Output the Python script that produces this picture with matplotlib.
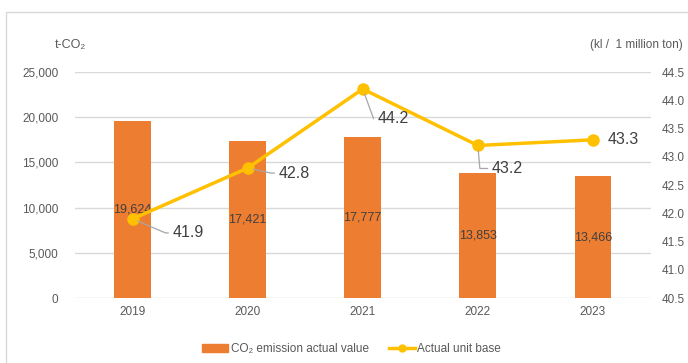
import matplotlib.pyplot as plt
import numpy as np
from matplotlib.patches import Rectangle, Patch
from matplotlib.lines import Line2D

plt.rcParams['font.family'] = ['Liberation Sans', 'DejaVu Sans']

years = ['2019', '2020', '2021', '2022', '2023']
emissions = [19624, 17421, 17777, 13853, 13466]
unit_base = [41.9, 42.8, 44.2, 43.2, 43.3]
# label offsets (pixels) and leader angle for the unit base annotations
label_offsets = [(40, -14), (31, -5), (15, -30), (14, -23), (15, 0)]
leader_angles = [-23, -12, -70, -85, None]

bar_color = '#ED7D31'
line_color = '#FFC000'
text_color = '#595959'
grid_color = '#D9D9D9'

fig = plt.figure(figsize=(6.88, 3.63), dpi=100)
ax = fig.add_axes([0.109, 0.179, 0.8365, 0.6226])
x = np.arange(len(years))

ax.bar(x, emissions, width=0.32, color=bar_color, zorder=2)
for xi, v in zip(x, emissions):
    ax.text(xi, v / 2, f'{v:,}', ha='center', va='center', fontsize=9,
            color='#404040', zorder=3)

ax.set_ylim(0, 25000)
ax.set_yticks(np.arange(0, 25001, 5000))
ax.set_yticklabels([f'{t:,}' for t in range(0, 25001, 5000)])
ax.set_xlim(-0.5, len(years) - 0.5)
ax.set_xticks(x)
ax.set_xticklabels(years)
ax.grid(axis='y', color=grid_color, linewidth=1, zorder=0)
ax.set_axisbelow(True)
for s in ax.spines.values():
    s.set_visible(False)
ax.tick_params(axis='both', length=0, labelsize=8.5, colors=text_color)
ax.tick_params(axis='y', pad=12)
ax.tick_params(axis='x', pad=6)

ax2 = ax.twinx()
ax2.plot(x, unit_base, color=line_color, linewidth=2.5, marker='o',
         markersize=8, zorder=4)
ax2.set_ylim(40.5, 44.5)
ax2.set_yticks(np.arange(40.5, 44.51, 0.5))
ax2.set_yticklabels([f'{t:.1f}' for t in np.arange(40.5, 44.51, 0.5)])
for s in ax2.spines.values():
    s.set_visible(False)
ax2.tick_params(axis='y', length=0, labelsize=8.5, colors=text_color, pad=8)

for xi, v, off, ang in zip(x, unit_base, label_offsets, leader_angles):
    props = None
    if ang is not None:
        props = dict(arrowstyle='-', color='#A6A6A6', lw=0.9,
                     shrinkA=1, shrinkB=4,
                     connectionstyle=f'angle,angleA=0,angleB={ang}')
    ax2.annotate(f'{v:.1f}', xy=(xi, v), xytext=off, textcoords='offset pixels',
                 ha='left', va='center', fontsize=11.5, color='#404040',
                 arrowprops=props, zorder=5)

fig.text(55 / 688, 1 - 45 / 363, 't-CO₂', ha='left', va='center',
         fontsize=9, color=text_color)
fig.text(683 / 688, 1 - 45 / 363, '(kl /  1 million ton)', ha='right',
         va='center', fontsize=8.5, color=text_color)

handles = [Patch(color=bar_color),
           Line2D([0], [0], color=line_color, lw=2.5, marker='o', markersize=5)]
fig.legend(handles, ['CO₂ emission actual value', 'Actual unit base'],
           loc='center', bbox_to_anchor=(351.5 / 688, 1 - 349 / 363), ncol=2,
           frameon=False, fontsize=8.5, labelcolor=text_color,
           handlelength=2.2, columnspacing=1.7, handletextpad=0.2)

fig.patches.append(Rectangle((6 / 688, -0.1), 1.2, (363 - 12) / 363 + 0.1,
                             transform=fig.transFigure, fill=False,
                             edgecolor=grid_color, linewidth=1))

fig.savefig('out.png', dpi=100, facecolor='white')
